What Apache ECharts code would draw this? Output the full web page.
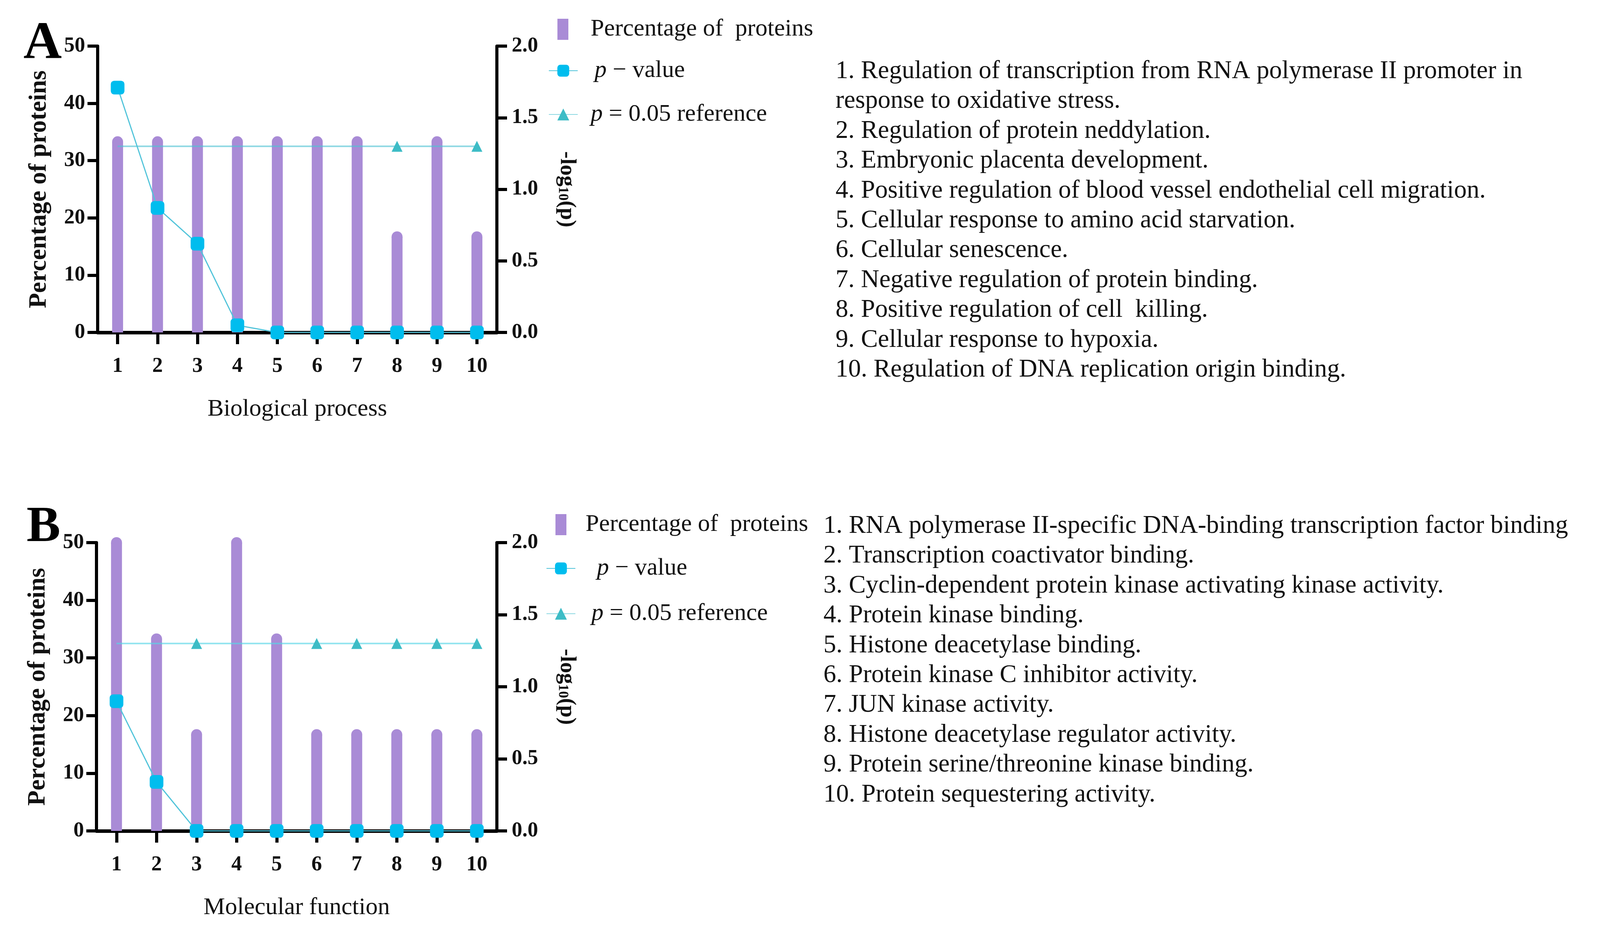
<!DOCTYPE html>
<html>
<head>
<meta charset="utf-8">
<script src="https://cdn.jsdelivr.net/npm/echarts@6/dist/echarts.min.js"></script>
<style>
html,body{margin:0;padding:0;background:#fff;}
#chart{width:4100px;height:2396px;}
</style>
</head>
<body>
<div id="chart"></div>
<script>
// ---------- data ----------
const categories = ['1','2','3','4','5','6','7','8','9','10'];
const leftTicks = [0, 10, 20, 30, 40, 50];
const rightTicks = ['0.0','0.5','1.0','1.5','2.0'];

// Panel A: Biological process
const bpPercent = [33.3, 33.3, 33.3, 33.3, 33.3, 33.3, 33.3, 16.7, 33.3, 16.7];
const bpLogP    = [1.71, 0.87, 0.62, 0.05, 0, 0, 0, 0, 0, 0];
const bpRef     = [1.30, 1.30, 1.30, 1.30, 1.30, 1.30, 1.30, 1.30, 1.30, 1.30];

// Panel B: Molecular function
const mfPercent = [50, 33.3, 16.7, 50, 33.3, 16.7, 16.7, 16.7, 16.7, 16.7];
const mfLogP    = [0.90, 0.34, 0, 0, 0, 0, 0, 0, 0, 0];
const mfRef     = [1.30, 1.30, 1.30, 1.30, 1.30, 1.30, 1.30, 1.30, 1.30, 1.30];

const bpTerms = [
  '1. Regulation of transcription from RNA polymerase II promoter in',
  'response to oxidative stress.',
  '2. Regulation of protein neddylation.',
  '3. Embryonic placenta development.',
  '4. Positive regulation of blood vessel endothelial cell migration.',
  '5. Cellular response to amino acid starvation.',
  '6. Cellular senescence.',
  '7. Negative regulation of protein binding.',
  '8. Positive regulation of cell  killing.',
  '9. Cellular response to hypoxia.',
  '10. Regulation of DNA replication origin binding.'
];
const mfTerms = [
  '1. RNA polymerase II-specific DNA-binding transcription factor binding',
  '2. Transcription coactivator binding.',
  '3. Cyclin-dependent protein kinase activating kinase activity.',
  '4. Protein kinase binding.',
  '5. Histone deacetylase binding.',
  '6. Protein kinase C inhibitor activity.',
  '7. JUN kinase activity.',
  '8. Histone deacetylase regulator activity.',
  '9. Protein serine/threonine kinase binding.',
  '10. Protein sequestering activity.'
];

const NAME_BAR = 'Percentage of  proteins';
const NAME_P = 'p − value';
const NAME_REF = 'p = 0.05 reference';

// ---------- styling ----------
const FONT = 'Liberation Serif';
const BAR_COLOR = '#A98BD6';
const P_COLOR = '#00BDEE';
const P_LINE = '#52C4DA';
const REF_COLOR = '#3DBCC6';
const REF_LINE = 'rgba(80,195,210,0.65)';
const BLACK = '#111';
const LIST_FONT = '65px "Liberation Serif"';

const chart = echarts.init(document.getElementById('chart'), null, {renderer: 'canvas'});

const panels = [
  {grid: {left: 250, top: 118, width: 1022, height: 733}, xName: 'Biological process', pct: bpPercent, logp: bpLogP, ref: bpRef},
  {grid: {left: 247, top: 1389, width: 1025, height: 738}, xName: 'Molecular function', pct: mfPercent, logp: mfLogP, ref: mfRef}
];

const grids = [], xAxes = [], yAxes = [], series = [];
panels.forEach((p, i) => {
  grids.push(Object.assign({containLabel: false}, p.grid));
  xAxes.push({
    type: 'category', gridIndex: i, data: categories, boundaryGap: true,
    name: p.xName, nameLocation: 'middle', nameGap: 166,
    nameTextStyle: {fontFamily: FONT, fontSize: 62, color: BLACK},
    axisLine: {show: true, onZero: false, lineStyle: {color: '#000', width: 9}},
    axisTick: {show: true, alignWithLabel: true, length: 30, lineStyle: {color: '#000', width: 8}},
    axisLabel: {fontFamily: FONT, fontSize: 54, fontWeight: 'bold', color: BLACK, margin: 60},
    splitLine: {show: false}
  });
  yAxes.push({
    type: 'value', gridIndex: i, position: 'left', min: leftTicks[0], max: leftTicks[leftTicks.length-1], interval: 10,
    name: 'Percentage of proteins', nameLocation: 'middle', nameGap: 118,
    nameTextStyle: {fontFamily: FONT, fontSize: 64, fontWeight: 'bold', color: BLACK},
    axisLine: {show: true, lineStyle: {color: '#000', width: 8}},
    axisTick: {show: true, length: 26, lineStyle: {color: '#000', width: 8}},
    axisLabel: {fontFamily: FONT, fontSize: 54, fontWeight: 'bold', color: BLACK, margin: 32},
    splitLine: {show: false}
  });
  yAxes.push({
    type: 'value', gridIndex: i, position: 'right', min: 0, max: 2, interval: 0.5,
    name: '-log{s|10}(p)', nameLocation: 'middle', nameGap: 150, nameRotate: -90,
    nameTextStyle: {fontFamily: FONT, fontSize: 56, fontWeight: 'bold', color: BLACK,
      rich: {s: {fontFamily: FONT, fontSize: 36, fontWeight: 'bold', color: BLACK, verticalAlign: 'bottom', lineHeight: 38}}},
    axisLine: {show: true, lineStyle: {color: '#000', width: 8}},
    axisTick: {show: true, length: 26, lineStyle: {color: '#000', width: 8}},
    axisLabel: {fontFamily: FONT, fontSize: 54, fontWeight: 'bold', color: BLACK, margin: 38,
      formatter: v => rightTicks[Math.round(v / 0.5)]},
    splitLine: {show: false}
  });
  const pct = p.pct;
  series.push({
    name: NAME_BAR, type: 'bar', xAxisIndex: i, yAxisIndex: i * 2, data: pct,
    barWidth: 28, z: 2,
    itemStyle: {color: BAR_COLOR}
  });
  // round caps of the bars (GraphPad style), drawn at each bar's value
  series.push({
    name: NAME_BAR, type: 'scatter', xAxisIndex: i, yAxisIndex: i * 2, data: pct,
    symbol: 'circle', symbolSize: 28, z: 2, silent: true,
    itemStyle: {color: BAR_COLOR, opacity: 1}
  });
  series.push({
    name: NAME_REF, type: 'line', xAxisIndex: i, yAxisIndex: i * 2 + 1, data: p.ref, z: 3,
    symbol: 'triangle',
    symbolSize: (v, params) => (pct[params.dataIndex] > 32.5 ? 0 : 28),
    lineStyle: {color: REF_LINE, width: 4},
    itemStyle: {color: REF_COLOR}
  });
  series.push({
    name: NAME_P, type: 'line', xAxisIndex: i, yAxisIndex: i * 2 + 1, data: p.logp, z: 4,
    symbol: 'roundRect', symbolSize: 35,
    lineStyle: {color: P_LINE, width: 3},
    itemStyle: {color: P_COLOR}
  });
});

// ---------- legends ----------
function legendItem(name, left, top, icon, w, h, gap, fmt) {
  const L = {
    data: [{name: name}], left: left, top: top, padding: 0, selectedMode: false,
    itemWidth: w, itemHeight: h,
    textStyle: {fontFamily: FONT, fontSize: 62, color: BLACK, lineHeight: 60,
      rich: {g: {width: gap, fontSize: 62, lineHeight: 60},
             i: {fontStyle: 'italic', fontFamily: FONT, fontSize: 62, lineHeight: 60, color: BLACK},
             t: {fontFamily: FONT, fontSize: 62, lineHeight: 60, color: BLACK}}},
    formatter: fmt
  };
  if (icon) { L.data[0].icon = icon; L.data[0].itemStyle = {color: BAR_COLOR, opacity: 1}; }
  return L;
}
const legends = [
  legendItem(NAME_BAR, 1427, 44, 'rect', 28, 54, 52, () => '{g| }{t|Percentage of  proteins}'),
  legendItem(NAME_P, 1404, 150, undefined, 74, 38, 38, () => '{g| }{i|p}{t| − value}'),
  legendItem(NAME_REF, 1404, 262, undefined, 74, 38, 28, () => '{g| }{i|p}{t| = 0.05 reference}'),
  legendItem(NAME_BAR, 1422, 1312, 'rect', 28, 54, 44, () => '{g| }{t|Percentage of  proteins}'),
  legendItem(NAME_P, 1398, 1424, undefined, 74, 38, 50, () => '{g| }{i|p}{t| − value}'),
  legendItem(NAME_REF, 1398, 1540, undefined, 74, 38, 36, () => '{g| }{i|p}{t| = 0.05 reference}')
];

// ---------- graphic text ----------
const graphics = [];
graphics.push({type: 'text', left: 60, top: 46, style: {text: 'A', font: 'bold 136px "Liberation Serif"', fill: '#000'}});
graphics.push({type: 'text', left: 68, top: 1286, style: {text: 'B', font: 'bold 130px "Liberation Serif"', fill: '#000'}});
bpTerms.forEach((t, k) => {
  graphics.push({type: 'text', x: 2139, y: 183 + k * 76.4,
    style: {text: t, font: LIST_FONT, fill: BLACK, verticalAlign: 'middle'}});
});
mfTerms.forEach((t, k) => {
  graphics.push({type: 'text', x: 2108, y: 1347 + k * 76.4,
    style: {text: t, font: LIST_FONT, fill: BLACK, verticalAlign: 'middle'}});
});

chart.setOption({
  animation: false,
  backgroundColor: '#fff',
  textStyle: {fontFamily: FONT},
  grid: grids,
  xAxis: xAxes,
  yAxis: yAxes,
  legend: legends,
  series: series,
  graphic: graphics
});
</script>
</body>
</html>
